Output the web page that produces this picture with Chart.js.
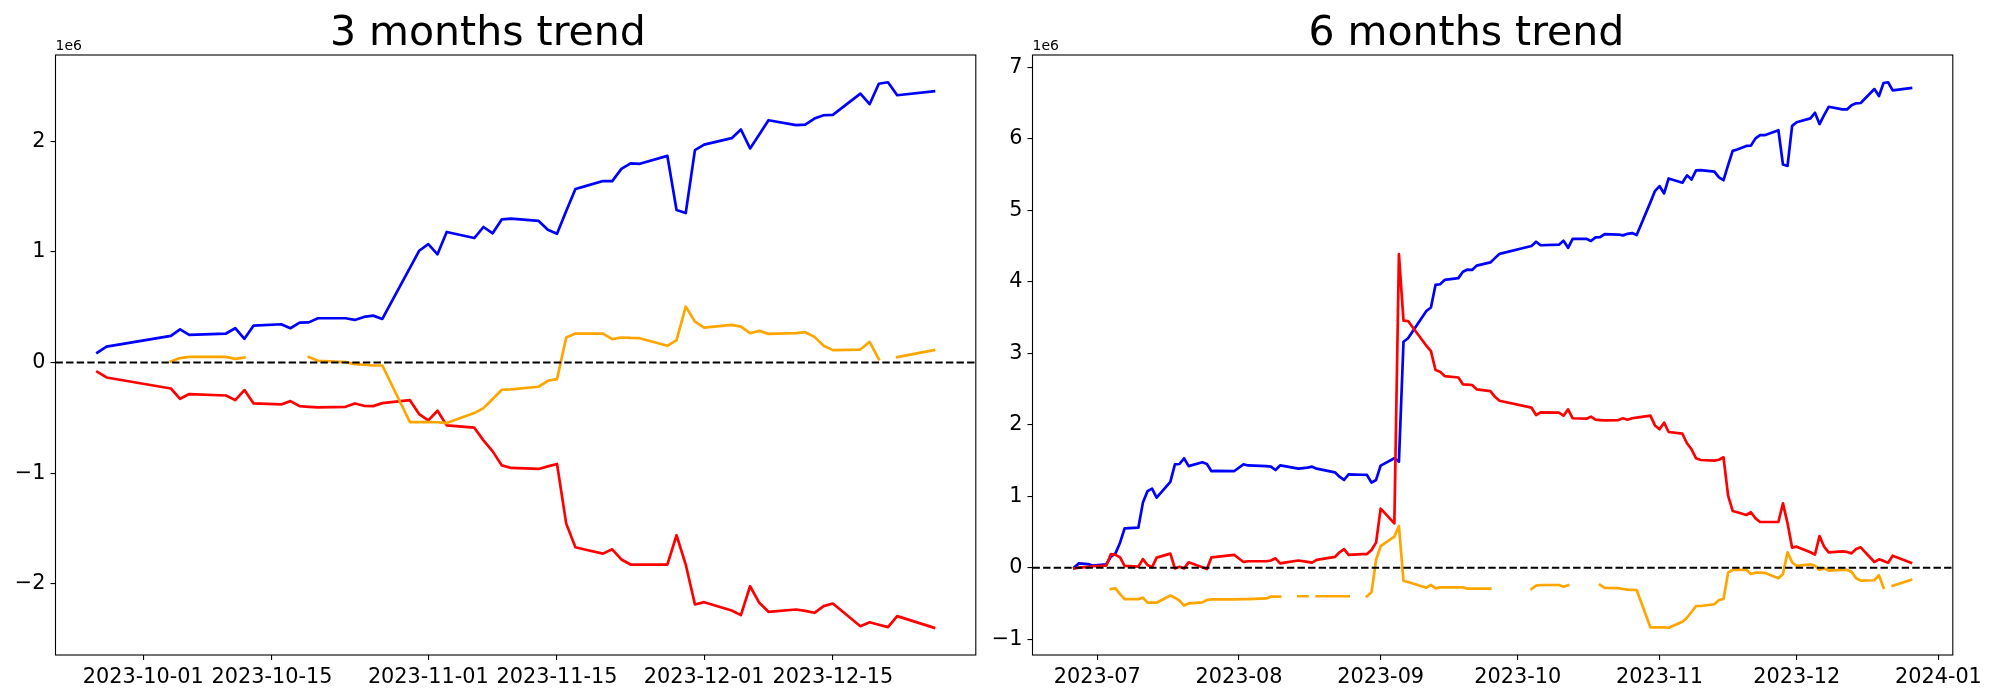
<!DOCTYPE html>
<html>
<head>
<meta charset="utf-8">
<script src="https://cdn.jsdelivr.net/npm/chart.js@4.4.0/dist/chart.umd.min.js"></script>
<style>
  body { margin: 0; background: #fff; }
  #wrap { position: relative; width: 2000px; height: 700px; }
  canvas { position: absolute; top: 0; }
  #chart3m { left: 0; }
  #chart6m { left: 980px; }
</style>
</head>
<body>
<div id="wrap">
  <canvas id="chart3m" width="1000" height="700"></canvas>
  <canvas id="chart6m" width="1020" height="700"></canvas>
</div>
<script>
// values in millions (axis offset 1e6)
const dates3m = ['2023-09-26','2023-09-27','2023-10-04','2023-10-05','2023-10-06','2023-10-10','2023-10-11','2023-10-12','2023-10-13','2023-10-16',
  '2023-10-17','2023-10-18','2023-10-19','2023-10-20','2023-10-23','2023-10-24','2023-10-25','2023-10-26','2023-10-27','2023-10-30',
  '2023-10-31','2023-11-01','2023-11-02','2023-11-03','2023-11-06','2023-11-07','2023-11-08','2023-11-09','2023-11-10','2023-11-13',
  '2023-11-14','2023-11-15','2023-11-16','2023-11-17','2023-11-18','2023-11-20','2023-11-21','2023-11-22','2023-11-23','2023-11-24',
  '2023-11-27','2023-11-28','2023-11-29','2023-11-30','2023-12-01','2023-12-04','2023-12-05','2023-12-06','2023-12-07','2023-12-08',
  '2023-12-11','2023-12-12','2023-12-13','2023-12-14','2023-12-15','2023-12-18','2023-12-19','2023-12-20','2023-12-21','2023-12-22','2023-12-26'];
const blue3m = [0.090, 0.144, 0.241, 0.300, 0.250, 0.262, 0.310, 0.214, 0.334, 0.346,
  0.310, 0.360, 0.363, 0.400, 0.400, 0.385, 0.412, 0.424, 0.394, 0.856,
  1.010, 1.070, 0.978, 1.180, 1.125, 1.225, 1.168, 1.294, 1.300, 1.280,
  1.200, 1.164, 1.370, 1.568, 1.592, 1.640, 1.640, 1.750, 1.800, 1.796,
  1.868, 1.378, 1.351, 1.920, 1.970, 2.028, 2.106, 1.935, 2.060, 2.190,
  2.145, 2.150, 2.205, 2.235, 2.238, 2.431, 2.335, 2.520, 2.533, 2.416, 2.452];
const red3m = [-0.084, -0.135, -0.235, -0.328, -0.285, -0.298, -0.340, -0.249, -0.370, -0.379,
  -0.349, -0.394, -0.400, -0.406, -0.400, -0.370, -0.391, -0.394, -0.367, -0.340,
  -0.466, -0.523, -0.436, -0.568, -0.589, -0.704, -0.803, -0.930, -0.953, -0.962,
  -0.939, -0.917, -1.456, -1.670, -1.690, -1.727, -1.688, -1.780, -1.826, -1.826,
  -1.826, -1.561, -1.826, -2.187, -2.166, -2.241, -2.283, -2.022, -2.172, -2.253,
  -2.232, -2.245, -2.262, -2.202, -2.178, -2.383, -2.347, -2.370, -2.392, -2.292, -2.397];
const orange3m = [null, null, 0.010, 0.040, 0.051, 0.051, 0.033, 0.045, null, null,
  null, null, 0.049, 0.015, 0.003, -0.015, -0.020, -0.027, -0.027, -0.538,
  -0.538, -0.538, -0.540, -0.547, -0.457, -0.412, -0.330, -0.246, -0.243, -0.219,
  -0.165, -0.150, 0.226, 0.262, 0.262, 0.262, 0.211, 0.226, 0.222, 0.220,
  0.151, 0.202, 0.505, 0.370, 0.316, 0.340, 0.325, 0.265, 0.286, 0.259,
  0.265, 0.274, 0.232, 0.151, 0.112, 0.117, 0.187, 0.031, null, 0.049, 0.112];
const ticks3m = ['2023-10-01', '2023-10-15', '2023-11-01', '2023-11-15', '2023-12-01', '2023-12-15'];

const dates6m = ['2023-06-26','2023-06-27','2023-06-29','2023-06-30','2023-07-03','2023-07-04','2023-07-05','2023-07-06','2023-07-07','2023-07-10',
  '2023-07-11','2023-07-12','2023-07-13','2023-07-14','2023-07-17','2023-07-18','2023-07-19','2023-07-20','2023-07-21','2023-07-24',
  '2023-07-25','2023-07-26','2023-07-27','2023-07-31','2023-08-02','2023-08-03','2023-08-07','2023-08-08','2023-08-09','2023-08-10',
  '2023-08-11','2023-08-14','2023-08-16','2023-08-17','2023-08-18','2023-08-22','2023-08-23','2023-08-24','2023-08-25','2023-08-28',
  '2023-08-29','2023-08-30','2023-08-31','2023-09-01','2023-09-04','2023-09-05','2023-09-06','2023-09-07','2023-09-11','2023-09-12',
  '2023-09-13','2023-09-14','2023-09-15','2023-09-18','2023-09-19','2023-09-20','2023-09-21','2023-09-22','2023-09-25'].concat(dates3m);
const blue6m = [0.005, 0.060, 0.050, 0.030, 0.047, 0.154, 0.200, 0.350, 0.550, 0.560,
  0.910, 1.070, 1.105, 0.980, 1.200, 1.446, 1.450, 1.530, 1.420, 1.474,
  1.450, 1.350, 1.355, 1.352, 1.446, 1.430, 1.420, 1.413, 1.366, 1.430,
  1.420, 1.385, 1.400, 1.413, 1.385, 1.334, 1.273, 1.227, 1.306, 1.300,
  1.297, 1.190, 1.227, 1.427, 1.530, 1.483, 3.160, 3.210, 3.590, 3.640,
  3.955, 3.965, 4.025, 4.050, 4.140, 4.170, 4.165, 4.225, 4.270,
  4.330, 4.390, 4.500, 4.560, 4.510, 4.518, 4.573, 4.475, 4.600, 4.600,
  4.570, 4.620, 4.625, 4.667, 4.660, 4.648, 4.670, 4.680, 4.653, 5.110,
  5.268, 5.338, 5.235, 5.445, 5.385, 5.488, 5.430, 5.558, 5.560, 5.540,
  5.460, 5.420, 5.630, 5.830, 5.850, 5.900, 5.905, 6.005, 6.050, 6.050,
  6.120, 5.640, 5.620, 6.180, 6.230, 6.285, 6.364, 6.205, 6.330, 6.447,
  6.410, 6.410, 6.470, 6.495, 6.500, 6.695, 6.597, 6.780, 6.790, 6.677, 6.710];
const red6m = [-0.010, 0.000, 0.010, 0.020, 0.030, 0.190, 0.180, 0.145, 0.024, 0.014,
  0.120, 0.038, 0.005, 0.140, 0.196, -0.010, 0.014, -0.010, 0.075, 0.005,
  -0.020, 0.145, 0.150, 0.178, 0.080, 0.090, 0.090, 0.100, 0.131, 0.060,
  0.070, 0.100, 0.080, 0.070, 0.108, 0.150, 0.215, 0.260, 0.180, 0.190,
  0.190, 0.248, 0.350, 0.826, 0.620, 4.387, 3.455, 3.450, 3.105, 3.030,
  2.765, 2.740, 2.680, 2.660, 2.565, 2.560, 2.555, 2.495, 2.470,
  2.390, 2.335, 2.238, 2.136, 2.173, 2.168, 2.126, 2.215, 2.090, 2.084,
  2.112, 2.070, 2.065, 2.060, 2.065, 2.090, 2.070, 2.090, 2.100, 2.126,
  1.990, 1.935, 2.028, 1.898, 1.874, 1.740, 1.656, 1.530, 1.506, 1.497,
  1.510, 1.544, 1.007, 0.793, 0.775, 0.737, 0.775, 0.690, 0.639, 0.639,
  0.639, 0.900, 0.620, 0.280, 0.294, 0.215, 0.182, 0.443, 0.294, 0.215,
  0.229, 0.220, 0.200, 0.260, 0.285, 0.080, 0.117, 0.095, 0.070, 0.168, 0.070];
const orange6m = [null, null, null, null, null, -0.298, -0.290, -0.370, -0.440, -0.440,
  -0.420, -0.490, -0.490, -0.490, -0.390, -0.420, -0.460, -0.530, -0.500, -0.485,
  -0.452, -0.443, -0.443, -0.443, -0.440, -0.440, -0.430, -0.405, -0.405, -0.405,
  null, -0.400, -0.400, null, -0.400, -0.400, -0.400, -0.400, -0.400, null,
  -0.400, -0.345, 0.108, 0.300, 0.434, 0.583, -0.186, -0.200, -0.280, -0.242,
  -0.290, -0.275, -0.275, -0.275, -0.275, -0.294, -0.294, -0.294, -0.294,
  null, null, -0.298, -0.252, -0.242, -0.242, -0.266, -0.246, null, null,
  null, null, -0.242, -0.284, -0.287, -0.298, -0.307, -0.310, -0.312, -0.834,
  -0.834, -0.834, -0.836, -0.840, -0.755, -0.700, -0.620, -0.536, -0.536, -0.512,
  -0.452, -0.438, -0.070, -0.032, -0.032, -0.032, -0.088, -0.070, -0.070, -0.072,
  -0.148, -0.088, 0.215, 0.075, 0.024, 0.047, 0.028, -0.032, -0.008, -0.042,
  -0.032, -0.032, -0.056, -0.148, -0.180, -0.176, -0.106, -0.280, null, -0.252, -0.172];
const ticks6m = ['2023-07', '2023-08', '2023-09', '2023-10', '2023-11', '2023-12', '2024-01'];

const FONT = 'DejaVu Sans';
const toMs = s => Date.parse(s.length === 7 ? s + '-01' : s);

// 5% margins like matplotlib autoscale
function limits(arr) {
  const lo = Math.min(...arr), hi = Math.max(...arr), m = (hi - lo) * 0.05;
  return [lo - m, hi + m];
}

const points = (dates, vals) => dates.map((d, i) => ({ x: toMs(d), y: vals[i] === null ? null : vals[i] * 1e6 }));

const frame = {
  id: 'frame',
  afterDatasetsDraw(chart) {
    const { ctx, chartArea: a, scales: { y } } = chart;
    const y0 = y.getPixelForValue(0);
    ctx.save();
    ctx.strokeStyle = '#000';
    ctx.lineWidth = 2;
    ctx.setLineDash([7.4, 3.2]);
    ctx.beginPath();
    ctx.moveTo(a.left, y0);
    ctx.lineTo(a.right, y0);
    ctx.stroke();
    ctx.setLineDash([]);
    ctx.lineWidth = 1.1;
    ctx.strokeRect(a.left, a.top, a.right - a.left, a.bottom - a.top);
    ctx.fillStyle = '#000';
    ctx.font = '14px "' + FONT + '"';
    ctx.textBaseline = 'bottom';
    ctx.textAlign = 'left';
    ctx.fillText('1e6', a.left, a.top - 2);
    ctx.restore();
  }
};

function makeChart(id, title, dates, blue, red, orange, tickLabels, axisWidth, padRight) {
  const xs = dates.map(toMs);
  const [xmin, xmax] = limits(xs);
  const allY = blue.concat(red, orange).filter(v => v !== null);
  const [ymin, ymax] = limits(allY);
  const tickVals = tickLabels.map(toMs);
  const tickFont = { family: FONT, size: 20.8 };
  const grid = { display: true, drawOnChartArea: false, drawTicks: true, tickLength: 5, color: '#000', lineWidth: 1.1 };
  const line = (data, color, order) => ({
    data, borderColor: color, borderWidth: 2.7, pointRadius: 0, tension: 0,
    spanGaps: false, borderJoinStyle: 'round', borderCapStyle: 'square', order
  });

  return new Chart(document.getElementById(id), {
    type: 'line',
    data: {
      datasets: [
        line(points(dates, blue), '#0000ff', 3),
        line(points(dates, red), '#ff0000', 2),
        line(points(dates, orange), '#ffa500', 1)
      ]
    },
    options: {
      responsive: false,
      animation: false,
      layout: { autoPadding: false, padding: { left: 0, right: padRight, top: 0, bottom: 0 } },
      plugins: {
        legend: { display: false },
        tooltip: { enabled: false },
        title: {
          display: true, text: title, color: '#000',
          font: { family: FONT, size: 41, weight: 'normal', lineHeight: 1 },
          padding: { top: 14, bottom: 0 }
        }
      },
      scales: {
        x: {
          type: 'linear', min: xmin, max: xmax,
          afterBuildTicks: s => { s.ticks = tickVals.map(v => ({ value: v })); },
          afterFit: s => { s.height = 45; },
          ticks: { callback: (v, i) => tickLabels[i], color: '#000', font: tickFont, padding: 5, maxRotation: 0, autoSkip: false },
          grid, border: { display: false }
        },
        y: {
          type: 'linear', min: ymin * 1e6, max: ymax * 1e6,
          afterBuildTicks: s => {
            const t = [];
            for (let v = Math.ceil(ymin); v <= Math.floor(ymax); v++) t.push({ value: v * 1e6 });
            s.ticks = t;
          },
          afterFit: s => { s.width = axisWidth; },
          ticks: {
            callback: v => { const n = Math.round(v / 1e6); return n < 0 ? '\u2212' + (-n) : String(n); },
            color: '#000', font: tickFont, padding: 5
          },
          grid, border: { display: false }
        }
      }
    },
    plugins: [frame]
  });
}

makeChart('chart3m', '3 months trend', dates3m, blue3m, red3m, orange3m, ticks3m, 55.5, 24.2);
makeChart('chart6m', '6 months trend', dates6m, blue6m, red6m, orange6m, ticks6m, 52.5, 47.2);
</script>
</body>
</html>
